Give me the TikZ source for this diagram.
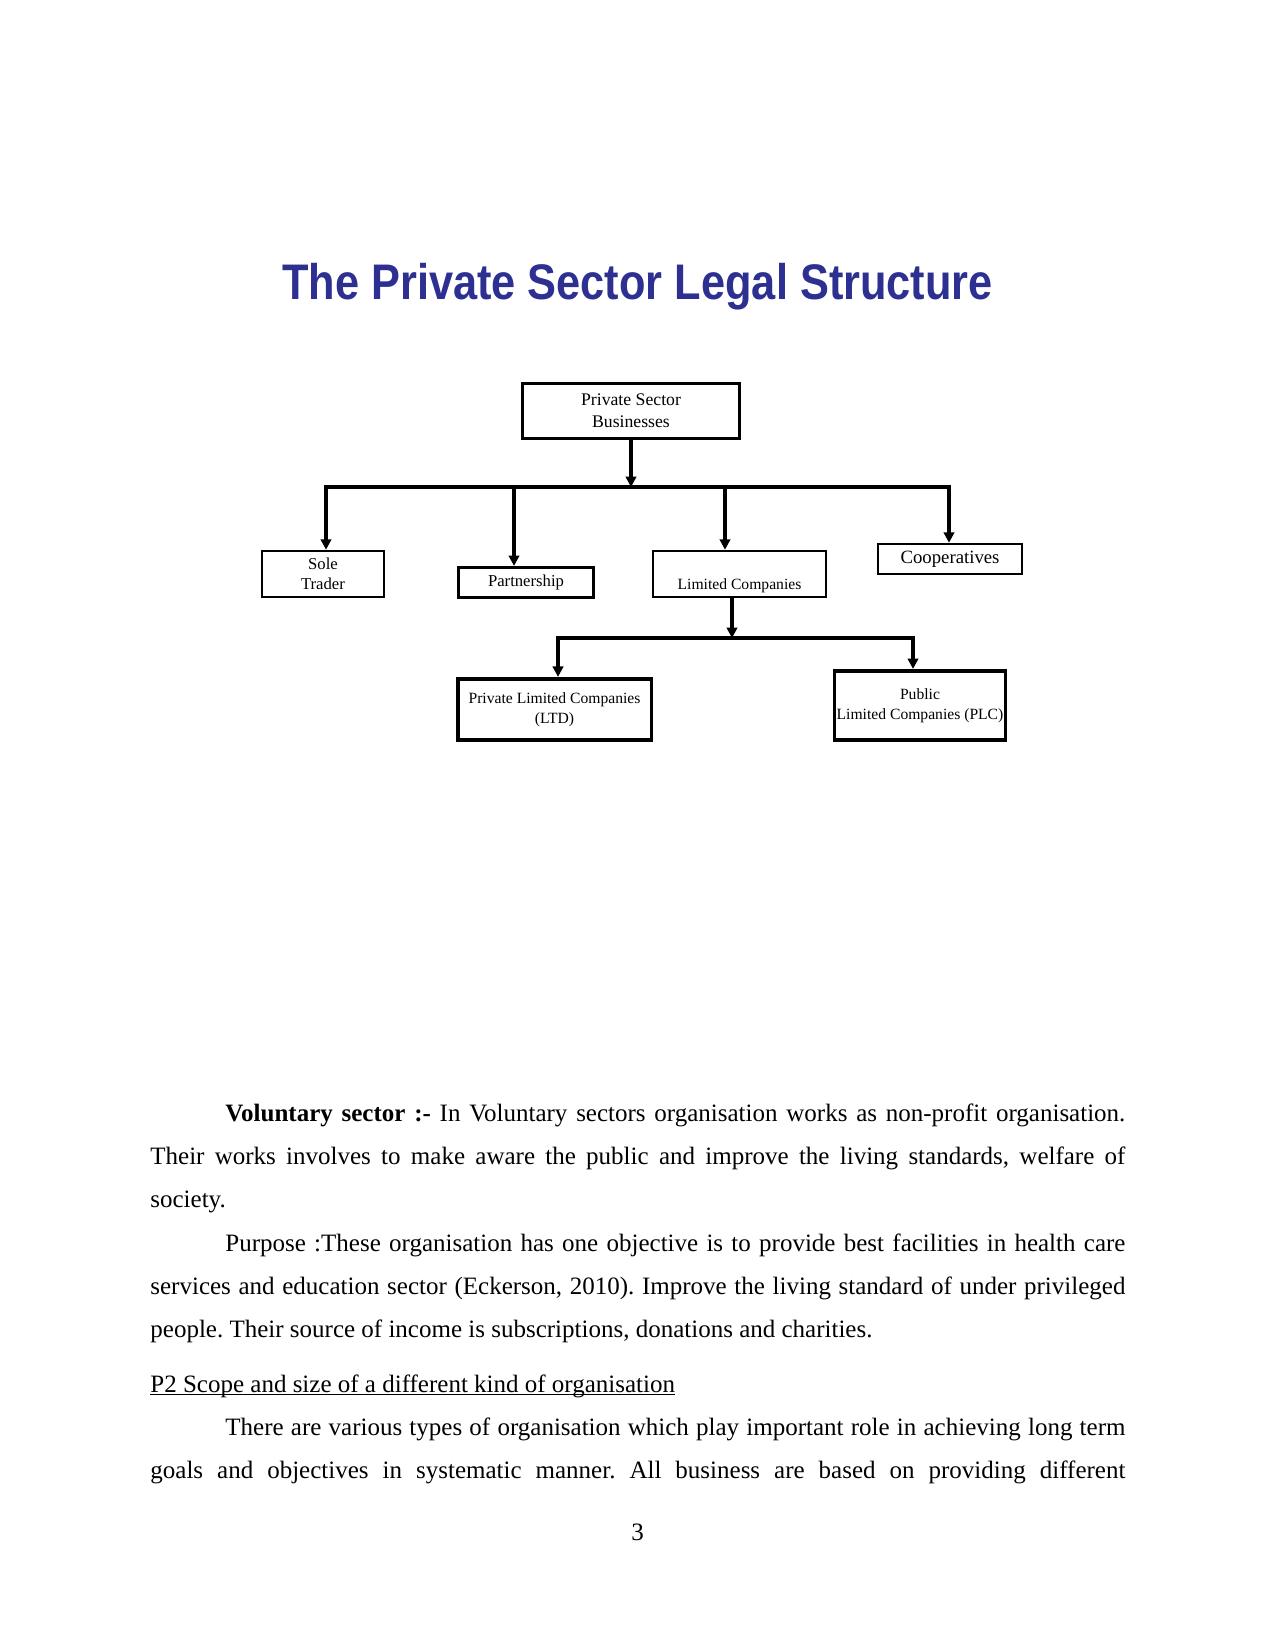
\documentclass[tikz,border=0pt]{standalone}
\usepackage{fontspec}
\setmainfont{Liberation Serif}
\newfontfamily\titlesans{Liberation Sans}
\usetikzlibrary{arrows.meta}
\definecolor{titleblue}{RGB}{45,48,145}
\frenchspacing
\tikzset{
  box/.style={draw, line width=1.3pt, inner sep=0pt, align=center},
  thickbox/.style={box, line width=1.8pt},
  conn/.style={line width=1.8pt},
  arr/.style={conn, -{Triangle[width=5pt,length=5pt]}},
  body/.style={anchor=base west, inner sep=0pt, font=\fontsize{12}{14}\selectfont\frenchspacing},
}
\begin{document}
\begin{tikzpicture}[x=0.48pt,y=-0.48pt]
\useasboundingbox (0,0) rectangle (1275,1650);

% title
\node[anchor=base, inner sep=0pt, text=titleblue] (title) at (637.5,300)
  {\scalebox{0.867}[1]{\titlesans\bfseries\fontsize{24}{28}\selectfont The Private Sector Legal Structure}};

% boxes
\node[box, minimum width=104pt, minimum height=26.2pt, font=\fontsize{8.5}{10.6}\selectfont] (root) at (631,411) {Private Sector\\Businesses};
\node[box, minimum width=58.5pt, minimum height=22pt, font=\fontsize{8}{9.6}\selectfont] (sole) at (323,574) {Sole\\Trader};
\node[box, minimum width=65pt, minimum height=14.6pt, font=\fontsize{8}{9.6}\selectfont] (part) at (526,582.5) {Partnership};
\node[box, minimum width=83pt, minimum height=22pt, text height=15pt, text depth=0pt, font=\fontsize{7.5}{9}\selectfont] (lim) at (739.5,574) {Limited Companies};
\node[box, minimum width=69pt, minimum height=14.3pt, font=\fontsize{9}{10.8}\selectfont] (coop) at (950,559) {Cooperatives};
\node[thickbox, minimum width=93pt, minimum height=29.5pt, font=\fontsize{7.5}{9.6}\selectfont] (ltd) at (554.5,709.5) {Private Limited Companies\\(LTD)};
\node[thickbox, minimum width=82pt, minimum height=33.3pt, font=\fontsize{7.5}{9.6}\selectfont] (plc) at (920,705.5) {Public\\Limited Companies (PLC)};

% connectors, level 1
\coordinate (b1) at (631,487);
\coordinate (b1L) at (326,487);
\coordinate (b1R) at (949,487);
\coordinate (dP) at (514,487);
\coordinate (dL) at (725,487);
\draw[arr] (root.south) -- (b1);
\draw[arr] (b1) -- (b1L) -- (b1L |- sole.north);
\draw[arr] (b1) -- (b1R) -- (b1R |- coop.north);
\draw[arr] (dP) -- (dP |- part.north);
\draw[arr] (dL) -- (dL |- lim.north);

% connectors, level 2
\coordinate (b2) at (732,638);
\coordinate (b2L) at (558,638);
\coordinate (b2R) at (913,638);
\draw[arr] (b2 |- lim.south) -- (b2);
\draw[arr] (b2) -- (b2L) -- (b2L |- ltd.north);
\draw[arr] (b2) -- (b2R) -- (b2R |- plc.north);

% body text
\node[body] (t1) at (150,1121) {\makebox[468pt][s]{\hspace*{36pt}\textbf{Voluntary sector :-} In Voluntary sectors organisation works as non-profit organisation.}};
\node[body] (t2) at (150,1164) {\makebox[468pt][s]{Their works involves to make aware the public and improve the living standards, welfare of}};
\node[body] (t3) at (150,1207) {society.};
\node[body] (t4) at (150,1251) {\makebox[468pt][s]{\hspace*{36pt}Purpose :These organisation has one objective is to provide best facilities in health care}};
\node[body] (t5) at (150,1294) {\makebox[468pt][s]{services and education sector (Eckerson, 2010). Improve the living standard of under privileged}};
\node[body] (t6) at (150,1337) {people. Their source of income is subscriptions, donations and charities.};
\node[body] (t7) at (150,1392) {P2 Scope and size of a different kind of organisation};
\draw[line width=0.6pt] ([yshift=-1.3pt]t7.base west) -- ([yshift=-1.3pt]t7.base east);
\node[body] (t8) at (150,1435) {\makebox[468pt][s]{\hspace*{36pt}There are various types of organisation which play important role in achieving long term}};
\node[body] (t9) at (150,1478) {\makebox[468pt][s]{goals and objectives in systematic manner. All business are based on providing different}};
\node[anchor=base, inner sep=0pt, font=\fontsize{12}{14}\selectfont] (pg) at (637.5,1540) {3};
\end{tikzpicture}
\end{document}
